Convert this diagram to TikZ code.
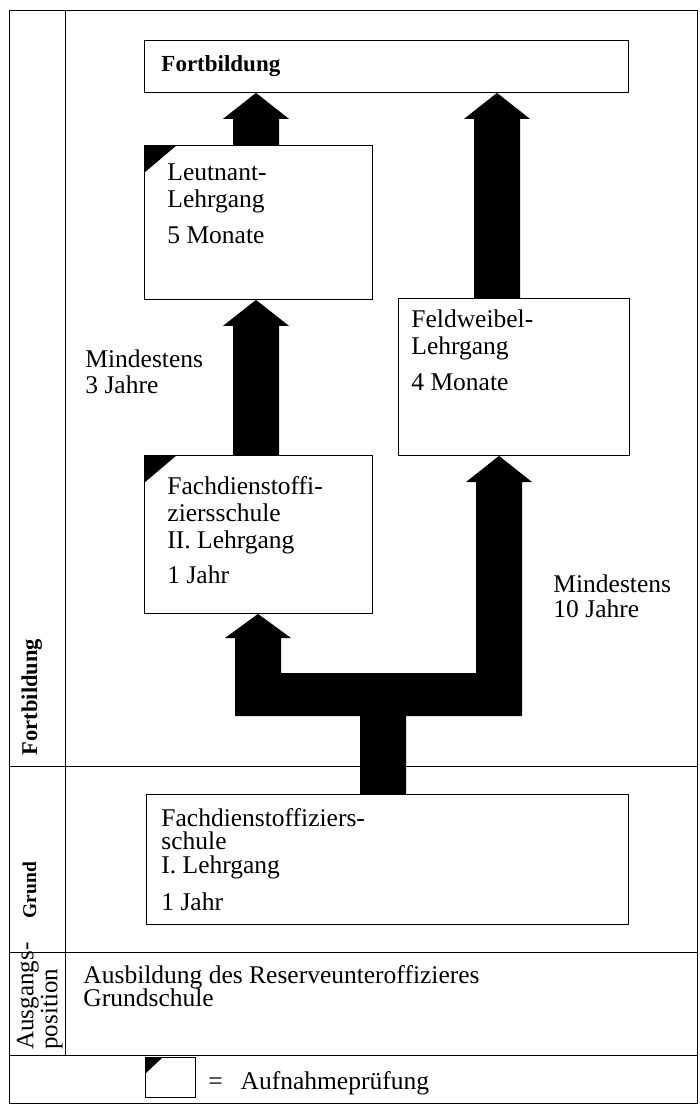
\documentclass[tikz,border=0pt]{standalone}
\usepackage{fontspec}
\setmainfont{Liberation Serif}
\usetikzlibrary{calc}

\tikzset{
  box/.style={draw, line width=0.9pt, inner sep=0pt, anchor=north west},
  txt/.style={inner sep=0pt, align=left, anchor=north west, font=\fontsize{25.5}{27}\selectfont},
  lbl/.style={inner sep=0pt, font=\bfseries\fontsize{22.5}{24}\selectfont},
}

\newcommand{\blockarrow}[3]{%
  \fill ({#1-23},0 |- #2.north)
    -- ($({#1-23},0 |- #3.south)+(0,26)$)
    -- ($({#1-33},0 |- #3.south)+(0,26)$)
    -- ({#1},0 |- #3.south)
    -- ($({#1+33},0 |- #3.south)+(0,26)$)
    -- ($({#1+23},0 |- #3.south)+(0,26)$)
    -- ({#1+23},0 |- #2.north) -- cycle;}

\newcommand{\examcorner}[3]{%
  \fill (#1.north west) -- ++(#2,0) -- ++(-#2,#3) -- cycle;}

\begin{document}
\begin{tikzpicture}[x=1pt, y=-1pt, line width=0.9pt]
    \useasboundingbox (0,0) rectangle (700,1106);
    \draw (9,10) rectangle (697,1103);
    \draw (65,10) -- (65,1055);
    \draw (9,766) -- (697,766);
    \draw (9,952) -- (697,952);
    \draw (9,1055) -- (697,1055);

    \node[box, minimum width=484pt, minimum height=52pt] (fb) at (144,40) {};
    \node[box, minimum width=228pt, minimum height=154pt] (lt) at (144,145) {};
    \node[box, minimum width=231pt, minimum height=157pt] (fw) at (398,298) {};
    \node[box, minimum width=228pt, minimum height=158pt] (fd2) at (144,455) {};
    \node[box, minimum width=482pt, minimum height=130pt] (fd1) at (146,794) {};
    \node[box, minimum width=50pt, minimum height=40pt] (key) at (145,1057) {};

    \examcorner{lt}{33}{28}
    \examcorner{fd2}{33}{28}
    \examcorner{key}{18}{17}

    \node[lbl, anchor=base west, font=\bfseries\fontsize{23}{24}\selectfont] (fbT) at ($(fb.north west)+(17,31)$) {Fortbildung};
    \node[txt] (ltT) at ($(lt.north west)+(23,18.6)$) {Leutnant-\\Lehrgang\\[9pt]5 Monate};
    \node[txt] (fwT) at ($(fw.north west)+(13,11.6)$) {Feldweibel-\\Lehrgang\\[9pt]4 Monate};
    \node[txt] (fd2T) at ($(fd2.north west)+(23,20.6)$) {Fachdienstoffi-\\ziersschule\\II. Lehrgang\\[8pt]1 Jahr};
    \node[txt, font=\fontsize{25.5}{23.5}\selectfont] (fd1T) at ($(fd1.north west)+(15,13.6)$) {Fachdienstoffiziers-\\schule\\I. Lehrgang\\[14pt]1 Jahr};
    \node[txt, font=\fontsize{25.5}{26}\selectfont] (min3) at (85,349.6) {Mindestens\\3 Jahre};
    \node[txt, font=\fontsize{25.5}{25}\selectfont] (min10) at (553,574.6) {Mindestens\\10 Jahre};
    \node[txt, font=\fontsize{25.5}{23.5}\selectfont] (ausb) at (83,964.6) {Ausbildung des Reserveunteroffizieres\\Grundschule};
    \node[txt, anchor=base west] (keyT) at (208,1089) {=\hspace{0.7em}Aufnahmeprüfung};

    \node[lbl, rotate=90, anchor=base] (secF) at (37,697) {Fortbildung};
    \node[lbl, rotate=90, anchor=base, font=\bfseries\fontsize{19.5}{21}\selectfont] (secG) at (36,890) {Grund};
    \node[txt, rotate=90, font=\fontsize{25}{24}\selectfont] (secA) at (16.5,1050) {Ausgangs-\\position};

    \blockarrow{256}{lt}{fb}
    \blockarrow{256}{fd2}{lt}
    \blockarrow{497}{fw}{fb}
    \fill (360,0 |- fd1.north) -- (360,716) -- (235,716) -- (235,638) -- (225,638)
        -- (258,0 |- fd2.south) -- (291,638) -- (281,638) -- (281,673) -- (476,673)
        -- (476,482) -- (466,482) -- (499,0 |- fw.south) -- (532,482) -- (522,482)
        -- (522,716) -- (406,716) -- (406,0 |- fd1.north) -- cycle;
\end{tikzpicture}
\end{document}
